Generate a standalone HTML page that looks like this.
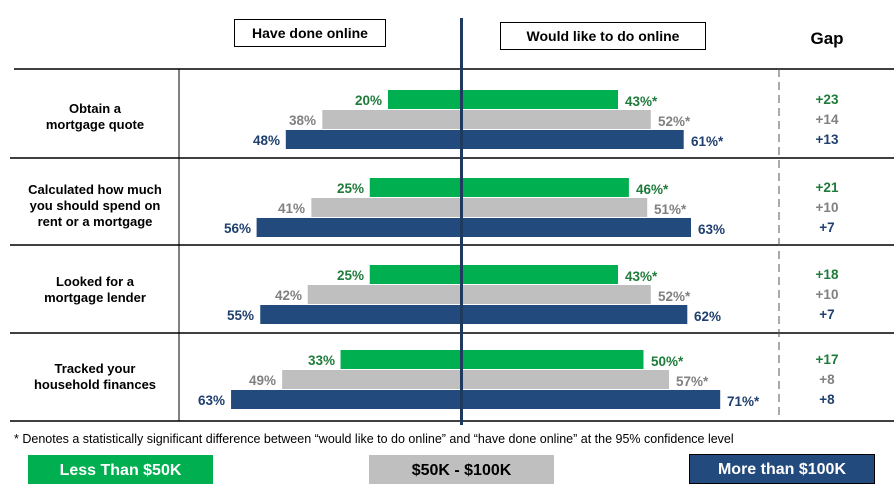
<!DOCTYPE html>
<html><head><meta charset="utf-8"><style>
html,body{margin:0;padding:0;background:#fff}
svg{display:block}
text{font-family:"Liberation Sans Narrow","Liberation Sans",sans-serif;font-weight:bold}
.g{fill:#1e7b3a}.y{fill:#808080}.b{fill:#1f3f6e}
.lab{font-size:13px;fill:#000;text-anchor:middle}
.pl{font-size:13.5px;text-anchor:end}
.pr{font-size:13.5px}
.gp{font-size:13.5px;text-anchor:middle}
</style></head><body>
<svg width="894" height="489" viewBox="0 0 894 489">
<rect x="234.5" y="19.5" width="151" height="27" fill="#fff" stroke="#000"/>
<text x="310" y="38" text-anchor="middle" font-size="14">Have done online</text>
<rect x="500.5" y="22.5" width="205" height="27" fill="#fff" stroke="#000"/>
<text x="603" y="41" text-anchor="middle" font-size="14">Would like to do online</text>
<text x="827" y="44" text-anchor="middle" font-size="17" font-family="Liberation Sans">Gap</text>
<g stroke="#000" stroke-width="1.5">
<line x1="14" y1="69" x2="894" y2="69"/>
<line x1="10" y1="158" x2="894" y2="158"/>
<line x1="10" y1="245" x2="894" y2="245"/>
<line x1="10" y1="333" x2="894" y2="333"/>
<line x1="10" y1="421" x2="894" y2="421"/>
<line x1="179" y1="69" x2="179" y2="421" stroke-width="1"/>
</g>
<line x1="779" y1="69" x2="779" y2="421" stroke="#555" stroke-width="1" stroke-dasharray="8,5"/>
<text class="lab" x="95" y="113">Obtain a</text>
<text class="lab" x="95" y="129">mortgage quote</text>
<text class="lab" x="95" y="194">Calculated how much</text>
<text class="lab" x="95" y="210">you should spend on</text>
<text class="lab" x="95" y="226">rent or a mortgage</text>
<text class="lab" x="95" y="286">Looked for a</text>
<text class="lab" x="95" y="302">mortgage lender</text>
<text class="lab" x="95" y="373">Tracked your</text>
<text class="lab" x="95" y="389">household finances</text>
<g>
<rect x="388" y="90" width="230" height="19" fill="#00b050"/>
<rect x="322.3" y="110" width="328.5" height="19" fill="#bfbfbf"/>
<rect x="285.8" y="130" width="397.9" height="19" fill="#234a7c"/>
<rect x="369.75" y="178" width="259.15" height="19" fill="#00b050"/>
<rect x="311.35" y="198" width="335.85" height="19" fill="#bfbfbf"/>
<rect x="256.6" y="218" width="434.4" height="19" fill="#234a7c"/>
<rect x="369.75" y="265" width="248.25" height="19" fill="#00b050"/>
<rect x="307.7" y="285" width="343.1" height="19" fill="#bfbfbf"/>
<rect x="260.25" y="305" width="427.05" height="19" fill="#234a7c"/>
<rect x="340.55" y="350" width="302.95" height="19" fill="#00b050"/>
<rect x="282.15" y="370" width="386.85" height="19" fill="#bfbfbf"/>
<rect x="231.05" y="390" width="489.15" height="19" fill="#234a7c"/>
</g>
<line x1="461.5" y1="18" x2="461.5" y2="425" stroke="#1f3a5f" stroke-width="3"/>
<text class="pl g" x="382" y="105">20%</text>
<text class="pl y" x="316" y="125">38%</text>
<text class="pl b" x="280" y="145">48%</text>
<text class="pl g" x="364" y="193">25%</text>
<text class="pl y" x="305" y="213">41%</text>
<text class="pl b" x="251" y="233">56%</text>
<text class="pl g" x="364" y="280">25%</text>
<text class="pl y" x="302" y="300">42%</text>
<text class="pl b" x="254" y="320">55%</text>
<text class="pl g" x="335" y="365">33%</text>
<text class="pl y" x="276" y="385">49%</text>
<text class="pl b" x="225" y="405">63%</text>
<text class="pr g" x="625" y="106">43%*</text>
<text class="pr y" x="658" y="126">52%*</text>
<text class="pr b" x="691" y="146">61%*</text>
<text class="pr g" x="636" y="194">46%*</text>
<text class="pr y" x="654" y="214">51%*</text>
<text class="pr b" x="698" y="234">63%</text>
<text class="pr g" x="625" y="281">43%*</text>
<text class="pr y" x="658" y="301">52%*</text>
<text class="pr b" x="694" y="321">62%</text>
<text class="pr g" x="651" y="366">50%*</text>
<text class="pr y" x="676" y="386">57%*</text>
<text class="pr b" x="727" y="406">71%*</text>
<text class="gp g" x="827" y="104">+23</text>
<text class="gp y" x="827" y="124">+14</text>
<text class="gp b" x="827" y="144">+13</text>
<text class="gp g" x="827" y="192">+21</text>
<text class="gp y" x="827" y="212">+10</text>
<text class="gp b" x="827" y="232">+7</text>
<text class="gp g" x="827" y="279">+18</text>
<text class="gp y" x="827" y="299">+10</text>
<text class="gp b" x="827" y="319">+7</text>
<text class="gp g" x="827" y="364">+17</text>
<text class="gp y" x="827" y="384">+8</text>
<text class="gp b" x="827" y="404">+8</text>
<text x="14" y="443" font-size="12.5" style="font-weight:normal" fill="#000">* Denotes a statistically significant difference between “would like to do online” and “have done online” at the 95% confidence level</text>
<rect x="28" y="455" width="185" height="29" fill="#00b050"/>
<text x="120.5" y="475" text-anchor="middle" font-size="16" fill="#fff">Less Than $50K</text>
<rect x="369" y="455" width="185" height="29" fill="#bfbfbf"/>
<text x="461.5" y="475" text-anchor="middle" font-size="16" fill="#000">$50K - $100K</text>
<rect x="689.5" y="454.5" width="185" height="29" fill="#234a7c" stroke="#000"/>
<text x="782" y="474" text-anchor="middle" font-size="16" fill="#fff">More than $100K</text>
</svg>
</body></html>
